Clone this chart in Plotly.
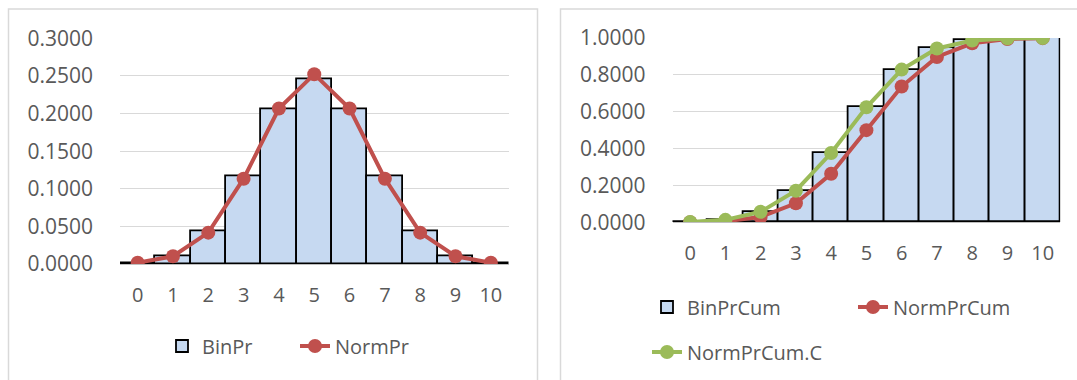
import plotly.graph_objects as go

# ---- data ----
k_values = ["0", "1", "2", "3", "4", "5", "6", "7", "8", "9", "10"]
bin_pr = [0.0010, 0.0098, 0.0439, 0.1172, 0.2051, 0.2461, 0.2051, 0.1172, 0.0439, 0.0098, 0.0010]
norm_pr = [0.0017, 0.0103, 0.0417, 0.1134, 0.2066, 0.2523, 0.2066, 0.1134, 0.0417, 0.0103, 0.0017]
bin_pr_cum = [0.0010, 0.0107, 0.0547, 0.1719, 0.3770, 0.6230, 0.8281, 0.9453, 0.9893, 0.9990, 1.0000]
norm_pr_cum = [0.0008, 0.0057, 0.0289, 0.1030, 0.2635, 0.5000, 0.7365, 0.8970, 0.9711, 0.9943, 0.9992]
norm_pr_cum_c = [0.0022, 0.0134, 0.0569, 0.1714, 0.3759, 0.6241, 0.8286, 0.9431, 0.9866, 0.9978, 0.9998]

W, H = 1077, 380
FONT = "Open Sans"
TXT = "#595959"
BAR_FILL = "#C6D9F1"
RED = "#C0504D"
GREEN = "#9BBB59"
GRID = "#D9D9D9"


def px_x(v):
    return v / W


def px_y(v):
    return 1 - v / H


fig = go.Figure()

fig.add_trace(go.Bar(x=k_values, y=bin_pr, name="BinPr", marker=dict(color=BAR_FILL, line=dict(color="black", width=1.8)),
                     xaxis="x", yaxis="y", legend="legend"))
fig.add_trace(go.Scatter(x=k_values, y=norm_pr, name="NormPr", mode="lines+markers",
                         line=dict(color=RED, width=4), marker=dict(color=RED, size=14),
                         xaxis="x", yaxis="y", legend="legend"))

fig.add_trace(go.Bar(x=k_values, y=bin_pr_cum, name="BinPrCum", marker=dict(color=BAR_FILL, line=dict(color="black", width=1.8)),
                     xaxis="x2", yaxis="y2", legend="legend2"))
fig.add_trace(go.Scatter(x=k_values, y=norm_pr_cum, name="NormPrCum", mode="lines+markers",
                         line=dict(color=RED, width=4), marker=dict(color=RED, size=14),
                         xaxis="x2", yaxis="y2", legend="legend2"))
fig.add_trace(go.Scatter(x=k_values, y=norm_pr_cum_c, name="NormPrCum.C", mode="lines+markers",
                         line=dict(color=GREEN, width=4), marker=dict(color=GREEN, size=14),
                         xaxis="x2", yaxis="y2", legend="legend3"))

tickfont = dict(family=FONT, size=20, color=TXT)
cat_range = [-0.5, len(k_values) - 0.5]

common_x = dict(type="category", range=cat_range, showgrid=False, zeroline=False, showline=True, linecolor="#BFBFBF",
                linewidth=1, tickfont=tickfont, ticks="", ticklabelstandoff=13, fixedrange=True, automargin=False)
common_y = dict(showgrid=True, gridcolor=GRID, gridwidth=1, zeroline=False, showline=False, automargin=False,
                tickfont=dict(family=FONT, size=21, color=TXT), ticks="", tickformat=".4f", ticklabelstandoff=26)

legend_common = dict(orientation="h", font=dict(family=FONT, size=20, color=TXT), bgcolor="rgba(0,0,0,0)",
                     xanchor="left", yanchor="middle", borderwidth=0)

fig.update_layout(
    template="none",
    width=W, height=H, margin=dict(l=0, r=0, t=0, b=0, autoexpand=False),
    paper_bgcolor="white", plot_bgcolor="white",
    barmode="group", bargap=0,
    xaxis=dict(domain=[px_x(120), px_x(508.5)], anchor="y", **common_x),
    yaxis=dict(domain=[px_y(264), px_y(38.3)], anchor="x", range=[0, 0.3], dtick=0.05, **common_y),
    xaxis2=dict(domain=[px_x(672.5), px_x(1060.3)], anchor="y2", **common_x),
    yaxis2=dict(domain=[px_y(222.3), px_y(38)], anchor="x2", range=[0, 1], dtick=0.2, **common_y),
    legend=dict(x=px_x(162), y=px_y(346), entrywidth=88, **legend_common),
    legend2=dict(x=px_x(647), y=px_y(307), entrywidth=161, **legend_common),
    legend3=dict(x=px_x(647), y=px_y(352), **legend_common),
    showlegend=True,
    shapes=[
        dict(type="rect", xref="paper", yref="paper", x0=px_x(8.5), x1=px_x(537.5), y0=px_y(400), y1=px_y(9),
             line=dict(color=GRID, width=1.5), fillcolor="rgba(0,0,0,0)", layer="below"),
        dict(type="rect", xref="paper", yref="paper", x0=px_x(560.5), x1=px_x(1100), y0=px_y(400), y1=px_y(9),
             line=dict(color=GRID, width=1.5), fillcolor="rgba(0,0,0,0)", layer="below"),
    ],
)

fig.write_html("out.html")
